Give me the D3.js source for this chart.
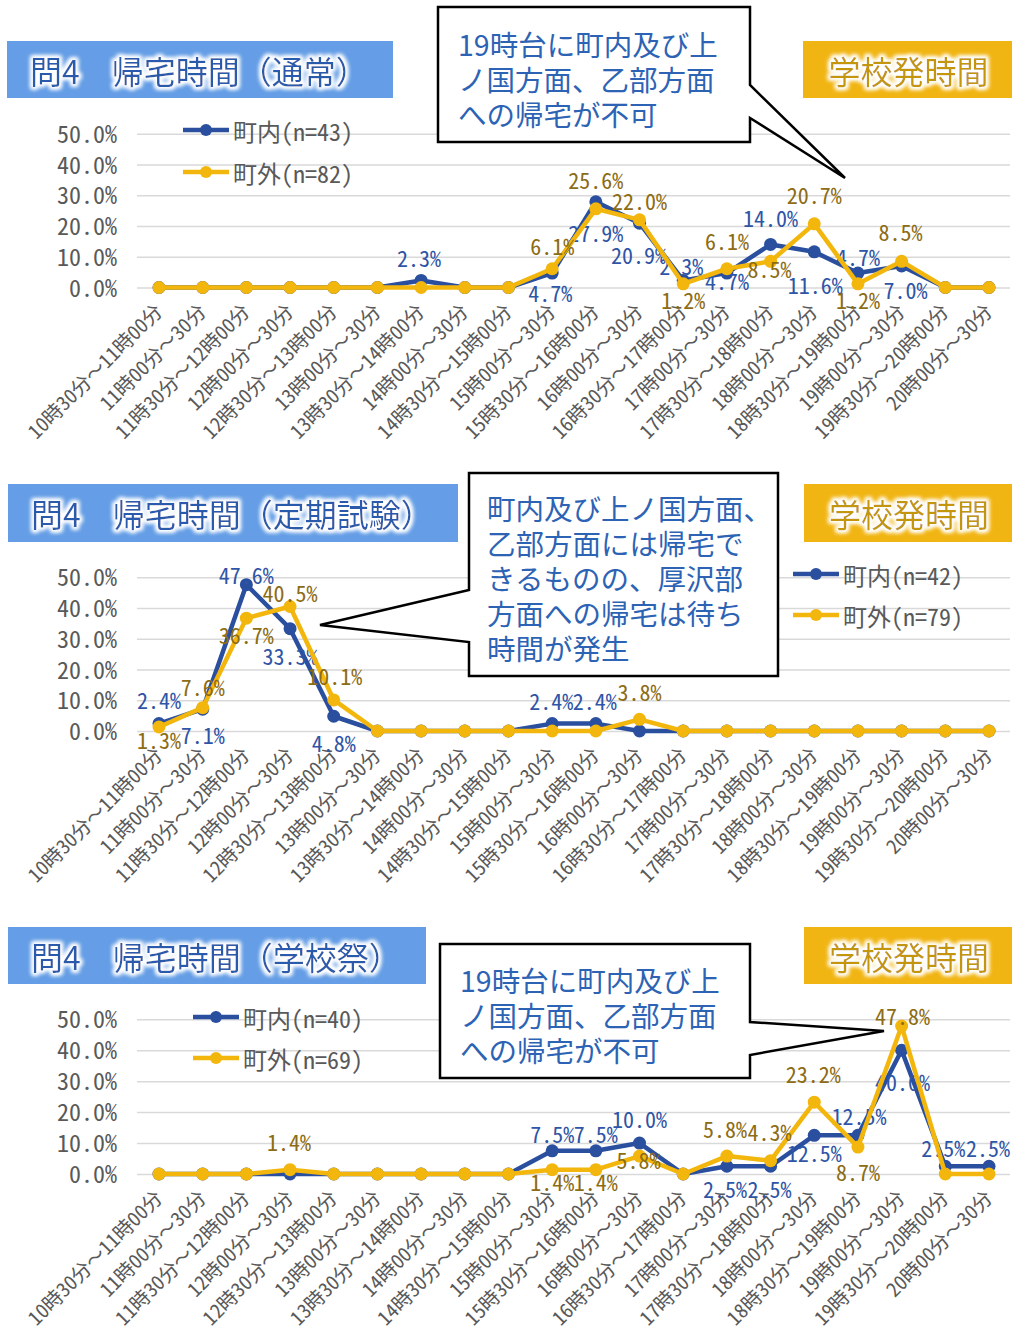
<!DOCTYPE html>
<html lang="ja">
<head>
<meta charset="utf-8">
<script src="https://cdnjs.cloudflare.com/ajax/libs/d3/7.8.5/d3.min.js"></script>
<style>
  html, body { margin: 0; padding: 0; background: #fff; }
  svg { display: block; }
  .jp { font-family: "Noto Sans CJK JP", "Noto Sans", sans-serif; }
  .hw { font-family: "Noto Sans CJK JP", sans-serif; font-feature-settings: "hwid" 1; }
  .fw { font-feature-settings: normal; }
</style>
</head>
<body>
<svg id="chart" width="1012" height="1331"></svg>
<script>
// ---- data ----
const categories = [
  "10時30分～11時00分", "11時00分～30分", "11時30分～12時00分", "12時00分～30分",
  "12時30分～13時00分", "13時00分～30分", "13時30分～14時00分", "14時00分～30分",
  "14時30分～15時00分", "15時00分～30分", "15時30分～16時00分", "16時00分～30分",
  "16時30分～17時00分", "17時00分～30分", "17時30分～18時00分", "18時00分～30分",
  "18時30分～19時00分", "19時00分～30分", "19時30分～20時00分", "20時00分～30分"
];
const yTickValues = [0, 10, 20, 30, 40, 50];

// 通常
const normalInside  = [0, 0, 0, 0, 0, 0, 2.3, 0, 0, 4.7, 27.9, 20.9, 2.3, 4.7, 14.0, 11.6, 4.7, 7.0, 0, 0];
const normalOutside = [0, 0, 0, 0, 0, 0, 0, 0, 0, 6.1, 25.6, 22.0, 1.2, 6.1, 8.5, 20.7, 1.2, 8.5, 0, 0];
// 定期試験
const examInside    = [2.4, 7.1, 47.6, 33.3, 4.8, 0, 0, 0, 0, 2.4, 2.4, 0, 0, 0, 0, 0, 0, 0, 0, 0];
const examOutside   = [1.3, 7.6, 36.7, 40.5, 10.1, 0, 0, 0, 0, 0, 0, 3.8, 0, 0, 0, 0, 0, 0, 0, 0];
// 学校祭
const festInside    = [0, 0, 0, 0, 0, 0, 0, 0, 0, 7.5, 7.5, 10.0, 0, 2.5, 2.5, 12.5, 12.5, 40.0, 2.5, 2.5];
const festOutside   = [0, 0, 0, 1.4, 0, 0, 0, 0, 0, 1.4, 1.4, 5.8, 0, 5.8, 4.3, 23.2, 8.7, 47.8, 0, 0];

const seriesNames = ["町内", "町外"];
const normalCounts = [43, 82];
const examCounts   = [42, 79];
const festCounts   = [40, 69];

const titles = ["問4　帰宅時間（通常）", "問4　帰宅時間（定期試験）", "問4　帰宅時間（学校祭）"];
const badgeText = "学校発時間";
const noteNoBus = ["19時台に町内及び上", "ノ国方面、乙部方面", "への帰宅が不可"];
const noteExam  = ["町内及び上ノ国方面、", "乙部方面には帰宅で", "きるものの、厚沢部", "方面への帰宅は待ち", "時間が発生"];

// ---- styling ----
const BLUE = "#2a4f9f", GOLD = "#f2b60c";
const BLUE_TXT = "#2f55a6", GOLD_TXT = "#8c6c14";
const GREY = "#595959", GRID = "#d9d9d9";
const fmt = d => d3.format(".1f")(d) + "%";

const svg = d3.select("#chart");
svg.append("rect").attr("width", 1012).attr("height", 1331).attr("fill", "#fff");

// white halo used on the banner texts
const defs = svg.append("defs");
const glow = defs.append("filter").attr("id", "glow")
  .attr("x", "-10%").attr("y", "-40%").attr("width", "120%").attr("height", "180%");
glow.append("feMorphology").attr("in", "SourceAlpha").attr("operator", "dilate").attr("radius", 1.8).attr("result", "d");
glow.append("feGaussianBlur").attr("in", "d").attr("stdDeviation", 2).attr("result", "b");
glow.append("feFlood").attr("flood-color", "#ffffff").attr("flood-opacity", 1);
glow.append("feComposite").attr("in2", "b").attr("operator", "in").attr("result", "g");
const mg = glow.append("feMerge");
mg.append("feMergeNode").attr("in", "g");
mg.append("feMergeNode").attr("in", "g");
mg.append("feMergeNode").attr("in", "SourceGraphic");

// ---- panel layouts (pixel geometry only) ----
const panels = [
  {
    title: titles[0], inside: normalInside, outside: normalOutside, counts: normalCounts,
    y0: 287.5, y50: 133.8,
    titleBox: [7, 41, 386, 57], badgeBox: [803, 41, 209, 57],
    legend: [183, 130, 172],
    callout: "M438,7 H750 V85 L845,178 L750,118 V142 H438 Z",
    note: noteNoBus, noteX: 458, noteY: 43,
    offIn:  {6: [-2, -23], 9: [-2, 19], 10: [0, 30], 11: [-1, 31], 12: [-2, -15], 13: [0, 7], 14: [0, -27], 15: [1, 32], 16: [0, -17], 17: [4, 23]},
    offOut: {9: [0, -24], 10: [0, -30], 11: [0, -20], 12: [0, 15], 13: [0, -29], 14: [-1, 7], 15: [0, -30], 16: [0, 15], 17: [-1, -30]}
  },
  {
    title: titles[1], inside: examInside, outside: examOutside, counts: examCounts,
    y0: 731, y50: 577.3,
    titleBox: [8, 484, 450, 58], badgeBox: [804, 484, 208, 58],
    legend: [793, 574, 615],
    callout: "M469,473 H778 V676 H469 V642 L320,625 L469,590 Z",
    note: noteExam, noteX: 487, noteY: 507,
    offIn:  {0: [0, -25], 1: [0, 25], 2: [0, -11], 3: [0, 26], 4: [0, 26], 9: [-1, -24], 10: [-1, -24]},
    offOut: {0: [0, 12], 1: [0, -22], 2: [0, 16], 3: [0, -15], 4: [1, -25], 11: [0, -28]}
  },
  {
    title: titles[2], inside: festInside, outside: festOutside, counts: festCounts,
    y0: 1174, y50: 1019.3,
    titleBox: [8, 927, 418, 57], badgeBox: [804, 927, 208, 57],
    legend: [193, 1017, 1058],
    callout: "M440,944 H750 V1022 L884,1031 L750,1055 V1078 H440 Z",
    note: noteNoBus, noteX: 460, noteY: 979,
    offIn:  {9: [0, -18], 10: [0, -18], 11: [0, -25], 13: [-2, 22], 14: [-1, 22], 15: [0, 17], 16: [1, -20], 17: [1, 31], 18: [-2, -19], 19: [-1, -19]},
    offOut: {3: [-1, -29], 9: [0, 11], 10: [0, 11], 11: [-1, 3], 13: [-2, -28], 14: [-1, -30], 15: [-1, -29], 16: [0, 24], 17: [1, -11]}
  }
];

const x = d3.scalePoint().domain(categories).range([159, 989]).padding(0);

panels.forEach(p => {
  const g = svg.append("g");
  const y = d3.scaleLinear().domain([0, 50]).range([p.y0, p.y50]);

  // gridlines + y tick labels
  const yAxis = d3.axisLeft(y).tickValues(yTickValues).tickSize(-(1010 - 137)).tickFormat(fmt).tickPadding(20);
  const ya = g.append("g").attr("transform", "translate(137,0)").call(yAxis);
  ya.select(".domain").remove();
  ya.selectAll(".tick line").attr("stroke", GRID).attr("stroke-width", 1.5);
  ya.selectAll(".tick text").attr("class", "hw").attr("fill", GREY)
    .attr("font-size", 24).attr("x", -20).attr("dy", "0.36em");

  // x axis category labels, the wave dash kept full width
  const xa = g.append("g").attr("transform", `translate(0,${p.y0})`)
    .call(d3.axisBottom(x).tickSize(0).tickFormat(d => d));
  xa.select(".domain").remove();
  xa.selectAll(".tick text")
    .attr("class", "hw").attr("fill", GREY).attr("font-size", 20)
    .attr("text-anchor", "end").attr("dominant-baseline", "central")
    .attr("y", 0).attr("dy", 0)
    .attr("transform", "translate(-2,19) rotate(-45)")
    .each(function (d) {
      const t = d3.select(this).text(null);
      const [a, b] = d.split("～");
      t.append("tspan").text(a);
      t.append("tspan").attr("class", "fw").text("～");
      t.append("tspan").text(b);
    });

  // banners
  const [tx, ty, tw, th] = p.titleBox;
  g.append("rect").attr("x", tx).attr("y", ty).attr("width", tw).attr("height", th).attr("fill", "#659ee6");
  g.append("text").attr("class", "jp").attr("x", tx + 23).attr("y", ty + th / 2)
    .attr("dominant-baseline", "central").attr("font-size", 32).attr("fill", "#2a5aab")
    .attr("filter", "url(#glow)").text(p.title);
  const [bx, by, bw, bh] = p.badgeBox;
  g.append("rect").attr("x", bx).attr("y", by).attr("width", bw).attr("height", bh).attr("fill", "#f1b513");
  g.append("text").attr("class", "jp").attr("x", bx + bw / 2 + 1).attr("y", by + bh / 2)
    .attr("text-anchor", "middle").attr("dominant-baseline", "central")
    .attr("font-size", 32).attr("fill", "#c4960e").attr("filter", "url(#glow)").text(badgeText);

  // legend
  const [lx, ly1, ly2] = p.legend;
  [[BLUE, ly1, 0], [GOLD, ly2, 1]].forEach(([c, ly, i]) => {
    g.append("line").attr("x1", lx).attr("x2", lx + 46).attr("y1", ly).attr("y2", ly)
      .attr("stroke", c).attr("stroke-width", 4.5);
    g.append("circle").attr("cx", lx + 23).attr("cy", ly).attr("r", 6).attr("fill", c);
    g.append("text").attr("class", "hw").attr("x", lx + 50).attr("y", ly)
      .attr("dominant-baseline", "central").attr("font-size", 24).attr("fill", GREY)
      .text(`${seriesNames[i]}(n=${p.counts[i]})`);
  });

  // series: line, markers, then value labels, one series at a time
  const line = d3.line().x((d, i) => x(categories[i])).y(d => y(d));
  [[p.inside, BLUE, BLUE_TXT, p.offIn], [p.outside, GOLD, GOLD_TXT, p.offOut]].forEach(([vals, c, tc, off]) => {
    const s = g.append("g");
    s.append("path").attr("d", line(vals)).attr("fill", "none")
      .attr("stroke", c).attr("stroke-width", 4.5).attr("stroke-linejoin", "round");
    s.selectAll("circle").data(vals).join("circle")
      .attr("cx", (d, i) => x(categories[i])).attr("cy", d => y(d)).attr("r", 6.5).attr("fill", c);
    s.selectAll("text").data(vals.map((v, i) => ({v, i})).filter(d => d.v > 0)).join("text")
      .attr("class", "hw").attr("font-size", 22).attr("fill", tc)
      .attr("text-anchor", "middle").attr("dominant-baseline", "central")
      .attr("x", d => x(categories[d.i]) + (off[d.i] ? off[d.i][0] : 0))
      .attr("y", d => y(d.v) + (off[d.i] ? off[d.i][1] : -20))
      .text(d => fmt(d.v));
  });

  // callout with its note as one multi-line text
  g.append("path").attr("d", p.callout).attr("fill", "#fff")
    .attr("stroke", "#000").attr("stroke-width", 2.5).attr("stroke-linejoin", "miter");
  g.append("text").attr("class", "jp").attr("font-size", 28.5).attr("fill", "#2d63b4")
    .attr("dominant-baseline", "central")
    .selectAll("tspan").data(p.note).join("tspan")
    .attr("x", p.noteX).attr("y", (d, i) => p.noteY + i * 35)
    .text(d => d);
});
</script>
</body>
</html>
